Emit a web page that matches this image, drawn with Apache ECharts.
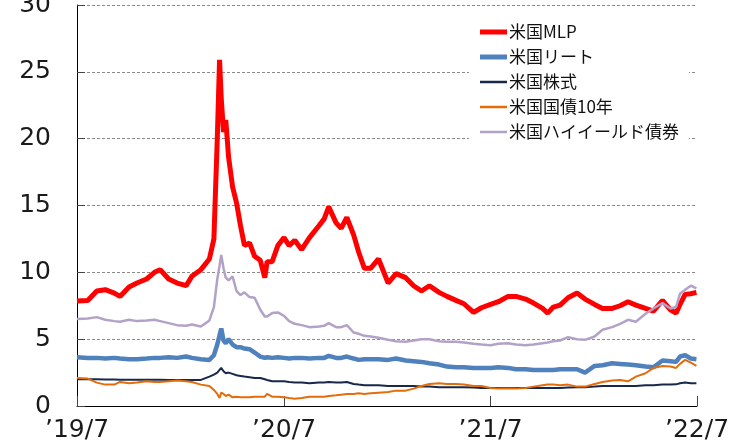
<!DOCTYPE html>
<html>
<head>
<meta charset="utf-8">
<script src="https://cdn.jsdelivr.net/npm/echarts@6/dist/echarts.min.js"></script>
<style>
html, body { margin: 0; padding: 0; background: #fff; }
#chart { width: 742px; height: 444px; }
</style>
</head>
<body>
<div id="chart"></div>
<script>
/*日付*/
var dates = [
	'2019-07-01', '2019-07-20', '2019-08-05', '2019-08-20', '2019-09-05', '2019-09-15', '2019-10-01', '2019-10-15',
	'2019-11-01', '2019-11-15', '2019-11-25', '2019-12-10', '2019-12-25', '2020-01-10', '2020-01-20', '2020-02-05',
	'2020-02-20', '2020-02-28', '2020-03-05', '2020-03-09', '2020-03-12', '2020-03-16', '2020-03-20', '2020-03-25',
	'2020-04-01', '2020-04-08', '2020-04-15', '2020-04-22', '2020-05-01', '2020-05-10', '2020-05-20', '2020-05-28',
	'2020-06-01', '2020-06-10', '2020-06-20', '2020-07-01', '2020-07-10', '2020-07-20', '2020-08-01', '2020-08-15',
	'2020-09-01', '2020-09-10', '2020-09-18', '2020-10-01', '2020-10-10', '2020-10-20', '2020-11-01', '2020-11-10',
	'2020-11-20', '2020-12-01', '2020-12-15', '2021-01-01', '2021-01-15', '2021-02-01', '2021-02-15', '2021-03-01',
	'2021-03-15', '2021-04-01', '2021-04-15', '2021-05-01', '2021-05-15', '2021-06-01', '2021-06-15', '2021-07-01',
	'2021-07-15', '2021-08-01', '2021-08-15', '2021-09-01', '2021-09-15', '2021-10-01', '2021-10-10', '2021-10-20',
	'2021-11-01', '2021-11-15', '2021-12-01', '2021-12-15', '2022-01-01', '2022-01-15', '2022-02-01', '2022-02-15',
	'2022-03-01', '2022-03-15', '2022-04-01', '2022-04-15', '2022-05-01', '2022-05-15', '2022-05-25', '2022-06-01',
	'2022-06-10', '2022-06-20', '2022-06-30'
];
/*米国MLP*/
var mlp = [
	7.85, 7.9, 8.6, 8.7, 8.45, 8.2, 8.9, 9.2,
	9.5, 10.0, 10.2, 9.5, 9.2, 9.0, 9.7, 10.2,
	11.0, 12.5, 20.0, 25.9, 23.0, 20.5, 21.4, 18.6,
	16.4, 15.2, 13.5, 12.0, 12.2, 11.2, 10.9, 9.6,
	10.8, 10.8, 12.0, 12.6, 12.0, 12.4, 11.7, 12.6,
	13.5, 14.0, 14.9, 13.7, 13.3, 14.1, 12.8, 11.5,
	10.3, 10.3, 11.0, 9.2, 9.9, 9.6, 9.0, 8.6,
	9.0, 8.5, 8.2, 7.9, 7.65, 7.0, 7.35, 7.6,
	7.8, 8.2, 8.2, 8.0, 7.7, 7.3, 6.95, 7.4,
	7.55, 8.1, 8.45, 8.0, 7.6, 7.3, 7.3, 7.5,
	7.8, 7.55, 7.3, 7.1, 7.9, 7.2, 6.95, 7.6,
	8.35, 8.4, 8.5
];
/*米国リート*/
var reit = [
	3.65, 3.6, 3.6, 3.55, 3.6, 3.55, 3.5, 3.5,
	3.55, 3.6, 3.6, 3.65, 3.6, 3.7, 3.6, 3.5,
	3.45, 3.8, 4.6, 5.3, 5.8, 4.9, 4.7, 5.0,
	4.6, 4.4, 4.4, 4.3, 4.25, 4.0, 3.7, 3.6,
	3.65, 3.6, 3.65, 3.6, 3.55, 3.6, 3.6, 3.55,
	3.6, 3.6, 3.75, 3.6, 3.6, 3.7, 3.55, 3.45,
	3.5, 3.5, 3.5, 3.45, 3.55, 3.4, 3.35, 3.3,
	3.2, 3.1, 2.95, 2.9, 2.9, 2.85, 2.85, 2.85,
	2.9, 2.85, 2.75, 2.75, 2.7, 2.7, 2.7, 2.7,
	2.75, 2.75, 2.75, 2.5, 3.0, 3.05, 3.2, 3.15,
	3.1, 3.05, 2.95, 2.9, 3.4, 3.35, 3.3, 3.7,
	3.8, 3.55, 3.5
];
/*米国株式*/
var stock = [
	2.0, 2.0, 2.0, 1.98, 1.98, 1.97, 1.97, 1.97,
	1.97, 1.96, 1.96, 1.95, 1.95, 1.95, 1.95, 1.95,
	2.2, 2.35, 2.5, 2.7, 2.85, 2.6, 2.45, 2.5,
	2.4, 2.3, 2.25, 2.2, 2.15, 2.1, 2.1, 2.0,
	1.95, 1.85, 1.85, 1.85, 1.8, 1.75, 1.75, 1.7,
	1.75, 1.75, 1.8, 1.75, 1.75, 1.8, 1.65, 1.6,
	1.55, 1.55, 1.55, 1.5, 1.5, 1.5, 1.5, 1.45,
	1.45, 1.4, 1.4, 1.4, 1.4, 1.38, 1.35, 1.35,
	1.35, 1.35, 1.35, 1.35, 1.35, 1.35, 1.35, 1.35,
	1.35, 1.38, 1.4, 1.4, 1.45, 1.5, 1.5, 1.5,
	1.5, 1.5, 1.55, 1.55, 1.6, 1.6, 1.62, 1.7,
	1.75, 1.7, 1.7
];
/*米国国債10年*/
var bond10 = [
	2.1, 2.05, 1.75, 1.6, 1.6, 1.8, 1.7, 1.75,
	1.85, 1.8, 1.8, 1.85, 1.9, 1.85, 1.8, 1.6,
	1.5, 1.2, 0.9, 0.6, 1.0, 0.9, 0.75, 0.85,
	0.65, 0.7, 0.65, 0.65, 0.65, 0.7, 0.7, 0.7,
	0.9, 0.7, 0.7, 0.65, 0.6, 0.55, 0.6, 0.7,
	0.7, 0.7, 0.75, 0.8, 0.85, 0.9, 0.9, 0.95,
	0.9, 0.95, 1.0, 1.05, 1.15, 1.15, 1.3, 1.5,
	1.65, 1.7, 1.65, 1.65, 1.6, 1.5, 1.5, 1.35,
	1.3, 1.3, 1.3, 1.35, 1.45, 1.55, 1.6, 1.6,
	1.55, 1.6, 1.45, 1.45, 1.65, 1.8, 1.9, 1.95,
	1.85, 2.2, 2.45, 2.85, 3.0, 2.95, 2.85, 3.15,
	3.45, 3.25, 3.0
];
/*米国ハイイールド債券*/
var highYield = [
	6.5, 6.55, 6.65, 6.45, 6.35, 6.3, 6.45, 6.35,
	6.4, 6.45, 6.35, 6.2, 6.05, 6.0, 6.1, 5.95,
	6.4, 7.4, 9.5, 10.5, 11.3, 10.3, 9.6, 9.4,
	9.7, 8.6, 8.3, 8.5, 8.15, 8.1, 7.2, 6.7,
	6.7, 6.95, 7.0, 6.75, 6.35, 6.15, 6.05, 5.9,
	5.95, 6.0, 6.2, 5.9, 5.9, 6.05, 5.5, 5.4,
	5.25, 5.2, 5.1, 4.95, 4.85, 4.8, 4.9, 5.0,
	5.0, 4.85, 4.8, 4.8, 4.75, 4.65, 4.6, 4.55,
	4.65, 4.7, 4.6, 4.55, 4.6, 4.7, 4.75, 4.85,
	4.9, 5.15, 5.0, 4.95, 5.2, 5.7, 5.9, 6.15,
	6.45, 6.3, 6.9, 7.3, 7.7, 7.3, 7.4, 8.4,
	8.7, 9.0, 8.8
];
/*目盛*/
var tickDates = ['2019-07-01', '2020-07-01', '2021-07-01', '2022-07-01'];
var tickLabels = ['\u201919/7', '\u201920/7', '\u201921/7', '\u201922/7'];

function toTime(str) {
	return +echarts.time.parse(str);
}

var tickValues = [];
for(var i = 0; i < tickDates.length; i++) {
	tickValues.push(toTime(tickDates[i]));
}

function pairs(values) {
	var list = [];
	for(var i = 0; i < dates.length; i++) {
		list.push([toTime(dates[i]), values[i]]);
	}
	return list;
}

/*凡例の線アイコン（太さ指定）*/
function legendIcon(thick) {
	var top = (14 - thick) / 2;
	var bottom = top + thick;
	return 'path://M0,0 M27,14 M0,' + top + ' L27,' + top + ' L27,' + bottom + ' L0,' + bottom + ' Z';
}

function lineSeries(name, values, color, width) {
	return {
		name: name,
		type: 'line',
		data: pairs(values),
		showSymbol: false,
		symbol: 'none',
		animation: false,
		lineStyle: {
			color: color,
			width: width
		},
		itemStyle: {
			color: color
		}
	};
}

var labelFont = 'DejaVu Sans';
var jpFont = '"Noto Sans CJK JP", sans-serif';

var option = {
	animation: false,
	backgroundColor: '#fff',
	grid: {
		left: 77,
		right: 45,
		top: 5,
		bottom: 38,
		containLabel: false,
		outerBoundsMode: 'none'
	},
	legend: {
		orient: 'vertical',
		left: 469,
		top: 12,
		padding: [10, 10, 10, 11],
		backgroundColor: '#fff',
		itemWidth: 27,
		itemHeight: 14,
		itemGap: 5,
		textStyle: {
			fontFamily: jpFont,
			fontSize: 17,
			lineHeight: 20,
			color: '#111',
			padding: [0, 0, 0, -3]
		},
		data: [
			{ name: '米国MLP', icon: legendIcon(5) },
			{ name: '米国リート', icon: legendIcon(5) },
			{ name: '米国株式', icon: legendIcon(2.5) },
			{ name: '米国国債10年', icon: legendIcon(2.5) },
			{ name: '米国ハイイールド債券', icon: legendIcon(2.5) }
		]
	},
	xAxis: {
		type: 'value',
		min: tickValues[0],
		max: tickValues[tickValues.length - 1],
		axisLine: {
			lineStyle: {
				color: '#000',
				width: 1
			}
		},
		axisTick: {
			show: true,
			inside: true,
			length: 10,
			customValues: tickValues,
			lineStyle: {
				color: '#444'
			}
		},
		axisLabel: {
			customValues: tickValues,
			margin: 12,
			fontFamily: labelFont,
			fontSize: 25,
			color: '#1a1a1a',
			formatter: function(value) {
				for(var i = 0; i < tickValues.length; i++) {
					if(Math.abs(tickValues[i] - value) < 86400000) {
						return tickLabels[i];
					}
				}
				return '';
			}
		},
		splitLine: {
			show: false
		}
	},
	yAxis: {
		type: 'value',
		min: 0,
		max: 30,
		interval: 5,
		axisLine: {
			show: true,
			lineStyle: {
				color: '#000',
				width: 1
			}
		},
		axisTick: {
			show: true,
			inside: true,
			length: 8,
			lineStyle: {
				color: '#444'
			}
		},
		axisLabel: {
			margin: 26,
			fontFamily: labelFont,
			fontSize: 25,
			color: '#1a1a1a'
		},
		splitLine: {
			show: true,
			lineStyle: {
				color: '#8a8a8a',
				type: [3, 2],
				width: 1
			}
		}
	},
	series: [
		lineSeries('米国MLP', mlp, '#ff0000', 5),
		lineSeries('米国リート', reit, '#4f81bd', 4.5),
		lineSeries('米国株式', stock, '#17284a', 2),
		lineSeries('米国国債10年', bond10, '#e46c0a', 2),
		lineSeries('米国ハイイールド債券', highYield, '#b3a2c7', 2.5)
	]
};

echarts.init(document.getElementById('chart')).setOption(option);
</script>
</body>
</html>
